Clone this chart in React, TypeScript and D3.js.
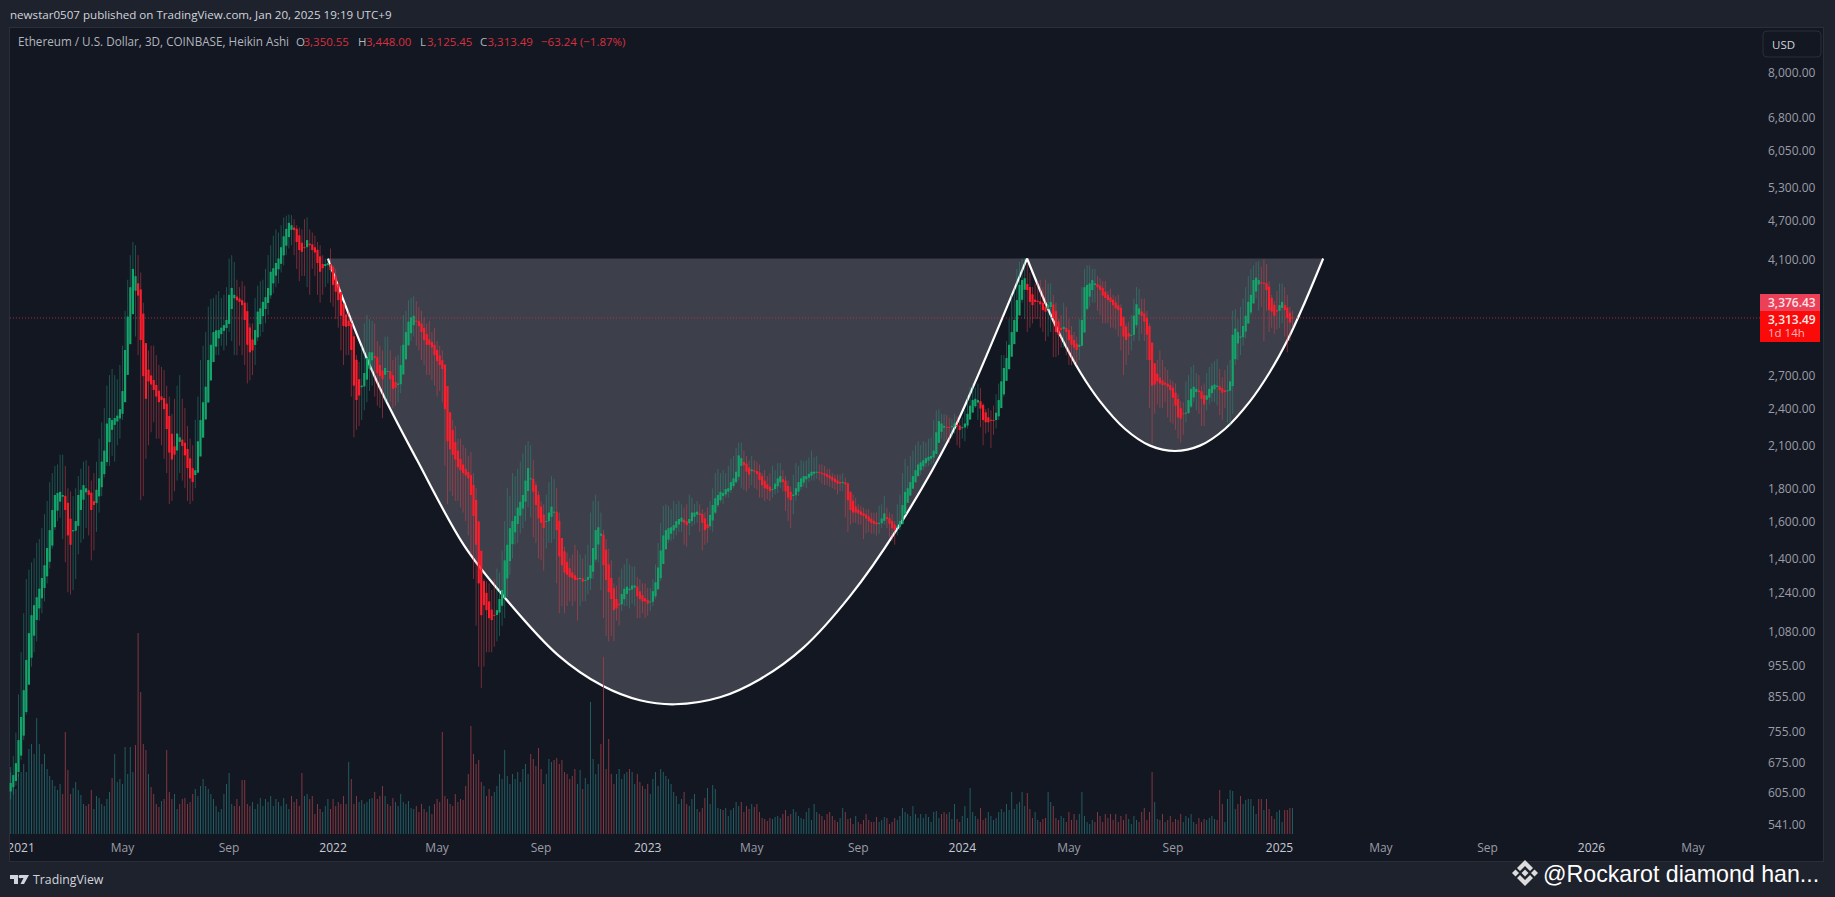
import React from "react";
import * as d3 from "d3";

const closes = [
626,644,672,730,793,873,973,1071,1142,1184,
1218,1256,1305,1366,1453,1549,1665,1757,1770,1777,
1757,1665,1520,1470,1549,1600,1757,1790,1820,1800,
1757,1665,1695,1790,1865,1980,2060,2270,2315,2298,
2315,2335,2390,2550,2954,3330,3700,3950,3850,3590,
3061,2690,2480,2640,2610,2560,2500,2450,2470,2390,
2225,2045,1995,2030,2190,2160,2095,2025,1935,1865,
1840,1920,2130,2298,2450,2590,2850,3010,3150,3170,
3173,3200,3230,3290,3600,3690,3600,3530,3510,3470,
3290,3010,2930,2950,3173,3390,3430,3510,3570,3690,
3910,3960,4035,4100,4270,4440,4560,4660,4620,4540,
4350,4226,4200,4270,4380,4300,4226,4190,4035,3910,
3960,4020,4035,3934,3730,3640,3533,3340,3220,3210,
3220,2954,2600,2469,2510,2600,2720,2870,2930,2930,
2870,2720,2690,2660,2770,2740,2660,2570,2580,2620,
2800,3010,3150,3270,3320,3340,3270,3220,3150,3060,
3010,3010,2980,2900,2840,2800,2760,2390,2130,2070,
2030,1995,1940,1920,1900,1885,1865,1757,1630,1470,
1280,1142,1184,1163,1130,1122,1142,1163,1210,1250,
1390,1470,1560,1600,1630,1680,1715,1757,1850,1935,
1865,1777,1695,1615,1590,1560,1600,1650,1685,1655,
1549,1410,1366,1330,1320,1310,1305,1296,1296,1305,
1288,1296,1310,1366,1453,1549,1565,1530,1366,1296,
1240,1210,1163,1170,1184,1232,1256,1265,1256,1270,
1270,1222,1210,1200,1200,1190,1200,1245,1285,1355,
1440,1520,1549,1560,1565,1577,1600,1612,1620,1590,
1577,1612,1650,1650,1655,1636,1590,1549,1560,1636,
1695,1737,1757,1777,1770,1795,1800,1840,1865,1910,
2025,2005,1955,1910,1890,1925,1910,1895,1855,1820,
1800,1795,1780,1795,1830,1865,1880,1840,1780,1740,
1725,1760,1800,1840,1865,1880,1880,1895,1910,1910,
1910,1900,1895,1885,1875,1865,1850,1840,1830,1830,
1840,1825,1725,1665,1650,1650,1645,1636,1630,1615,
1600,1590,1585,1580,1590,1615,1645,1612,1585,1560,
1549,1570,1600,1695,1777,1800,1840,1880,1920,1960,
1975,1990,2005,2015,2020,2060,2200,2290,2270,2250,
2240,2240,2250,2270,2250,2217,2240,2270,2350,2420,
2469,2480,2469,2395,2298,2280,2280,2298,2298,2360,
2469,2640,2770,2870,3010,3150,3290,3533,3730,3796,
3820,3662,3510,3470,3510,3510,3480,3408,3390,3470,
3510,3313,3150,3120,3173,3210,3150,3060,3010,2980,
2954,3010,3290,3700,3730,3750,3796,3750,3700,3662,
3590,3560,3533,3510,3470,3430,3408,3220,3100,3061,
3100,3120,3340,3480,3430,3340,3270,3120,2850,2600,
2610,2640,2620,2605,2610,2590,2558,2490,2420,2320,
2310,2350,2360,2469,2570,2590,2570,2540,2480,2430,
2510,2570,2600,2610,2600,2558,2535,2540,2558,2640,
3120,3190,3150,3100,3220,3340,3510,3600,3796,3830,
3796,3750,3750,3662,3408,3390,3340,3390,3470,3510,
3408,3313,3260,3313,
];

const highs = [
650,690,750,860,1000,1150,1300,1345,1380,1400,
1480,1500,1560,1640,1720,1840,1900,1950,1960,2030,
2030,1950,1800,1780,1750,1800,1880,1930,1980,1990,
1950,1850,1900,1980,2150,2280,2400,2600,2700,2760,
2700,2660,2800,3000,3400,3800,4150,4350,4300,4150,
3900,3500,3000,2950,3000,3000,2900,2800,2780,2750,
2600,2500,2350,2480,2600,2700,2480,2400,2250,2150,
2100,2300,2500,2850,3000,3150,3450,3550,3560,3600,
3650,3560,3600,3700,4100,4150,4050,3800,3700,3780,
3720,3500,3250,3250,3560,3720,3780,3800,3950,4150,
4300,4450,4550,4500,4620,4750,4780,4800,4790,4720,
4620,4580,4550,4720,4750,4550,4500,4450,4350,4300,
4150,4100,4100,4250,4000,3950,3700,3600,3500,3400,
3400,3300,3150,2900,2830,3000,3250,3350,3300,3280,
3250,3050,3000,2950,3100,3100,2950,2850,2880,2900,
3000,3350,3400,3530,3560,3580,3520,3450,3400,3320,
3250,3280,3150,3200,3050,3000,2950,2800,2500,2350,
2300,2250,2150,2150,2100,2080,2020,2050,1900,1800,
1600,1380,1300,1290,1280,1250,1300,1350,1330,1440,
1600,1800,1750,1900,1880,1930,1980,2040,2100,2130,
2100,1990,1840,1780,1720,1700,1760,1840,1880,1860,
1800,1650,1500,1460,1430,1400,1420,1470,1440,1420,
1400,1420,1470,1650,1720,1760,1720,1650,1550,1500,
1450,1390,1280,1270,1310,1350,1370,1400,1370,1360,
1360,1310,1300,1280,1280,1260,1260,1300,1370,1480,
1590,1690,1700,1690,1670,1720,1700,1720,1700,1680,
1700,1760,1740,1700,1720,1700,1670,1650,1680,1720,
1800,1900,1930,1900,1920,1900,1950,2000,2020,2080,
2120,2120,2060,2020,1990,2020,1990,1980,1960,1900,
1920,1880,1900,1950,1920,1970,1970,1920,1880,1850,
1810,1890,1970,1950,1990,1980,1990,2010,2060,2010,
2020,1960,1960,1950,1930,1930,1900,1890,1890,1890,
1900,1870,1840,1750,1760,1740,1700,1690,1680,1670,
1670,1650,1650,1650,1690,1700,1750,1680,1650,1640,
1600,1700,1760,1900,2000,1950,2020,2060,2100,2130,
2100,2130,2120,2150,2160,2300,2380,2390,2350,2350,
2340,2320,2310,2350,2330,2300,2320,2380,2500,2590,
2620,2580,2620,2580,2440,2390,2400,2380,2420,2520,
2620,2900,2900,3050,3300,3600,3700,3950,4050,4100,
4100,4020,3900,3700,3750,3780,3800,3700,3800,3750,
3750,3600,3500,3300,3350,3500,3450,3300,3220,3150,
3100,3300,3700,3950,4000,4000,3950,3950,3850,3820,
3780,3780,3650,3680,3600,3580,3600,3480,3320,3250,
3270,3350,3550,3700,3680,3550,3550,3400,3250,3000,
2800,2850,2950,2850,2780,2750,2660,2640,2620,2520,
2460,2450,2640,2700,2780,2800,2720,2700,2600,2620,
2720,2780,2820,2840,2860,2760,2680,2750,2800,2850,
3400,3420,3300,3450,3550,3700,3850,3950,4000,4050,
4060,3980,4090,4020,3780,3600,3520,3650,3750,3750,
3700,3600,3450,3400,
];

const lows = [
590,600,620,640,680,730,800,900,950,1000,
1040,1120,1150,1200,1280,1350,1450,1550,1600,1620,
1500,1380,1240,1230,1250,1300,1420,1480,1500,1560,
1520,1390,1440,1540,1650,1750,1870,1950,1950,2020,
1980,2100,2150,2300,2500,2800,3200,3400,3100,2900,
1725,1750,2000,2100,2200,2280,2150,2150,2100,2000,
1900,1700,1720,1780,1850,1900,1850,1800,1720,1700,
1720,1800,1900,2050,2200,2300,2500,2700,2850,2900,
2900,3000,2950,3000,3150,3050,2900,2900,3000,2900,
2800,2620,2650,2700,2800,3050,3100,3150,3250,3350,
3550,3620,3700,3750,3900,4000,4150,4250,4300,4150,
3950,3780,3850,3850,3700,3600,3950,3850,3600,3500,
3600,3700,3750,3500,3450,3300,3200,2950,2800,2900,
2900,2500,2160,2220,2250,2300,2380,2450,2550,2600,
2500,2420,2400,2315,2450,2450,2450,2400,2420,2450,
2530,2700,2850,3000,3050,3100,3000,2950,2850,2800,
2700,2700,2650,2600,2500,2550,2450,1950,1700,1780,
1750,1720,1720,1680,1650,1600,1520,1420,1300,1100,
950,880,950,1000,1000,1000,1020,1040,1060,1100,
1130,1220,1320,1400,1470,1480,1530,1560,1600,1680,
1620,1510,1480,1400,1390,1340,1450,1480,1480,1500,
1280,1150,1180,1150,1180,1200,1180,1200,1120,1180,
1200,1200,1230,1250,1300,1380,1380,1250,1130,1060,
1040,1060,1040,1120,1100,1160,1180,1180,1170,1190,
1180,1130,1130,1150,1130,1140,1160,1180,1210,1250,
1290,1370,1450,1480,1490,1500,1520,1540,1540,1470,
1460,1520,1570,1580,1590,1540,1440,1470,1480,1550,
1540,1640,1680,1710,1700,1740,1740,1770,1800,1830,
1850,1800,1790,1780,1800,1820,1800,1790,1740,1740,
1720,1730,1720,1740,1760,1770,1800,1780,1660,1600,
1560,1640,1720,1750,1790,1810,1800,1840,1850,1850,
1860,1850,1830,1820,1820,1810,1800,1790,1760,1780,
1780,1620,1540,1580,1590,1590,1580,1580,1500,1530,
1540,1530,1530,1520,1530,1560,1580,1560,1510,1490,
1470,1520,1550,1580,1650,1730,1750,1800,1850,1880,
1890,1920,1940,1950,1960,1970,2050,2150,2150,2130,
2140,2120,2160,2190,2100,2080,2150,2130,2230,2320,
2360,2400,2300,2240,2100,2190,2200,2080,2180,2230,
2300,2400,2500,2700,2800,2950,3100,3250,3400,3500,
3300,3150,3200,3250,3300,3300,3200,3150,3050,3100,
3150,2880,2880,2900,2980,2980,2900,2800,2800,2820,
2800,2850,3000,3200,3400,3450,3500,3500,3400,3350,
3250,3250,3250,3200,3200,3180,3100,2950,2700,2800,
2900,2950,3050,3200,3050,3130,3050,2850,2400,2110,
2350,2430,2400,2400,2450,2320,2280,2270,2220,2150,
2120,2180,2280,2350,2400,2450,2380,2350,2250,2250,
2380,2430,2450,2450,2420,2340,2300,2400,2280,2250,
2350,2800,2850,2900,3000,3080,3250,3350,3500,3550,
3400,3450,3050,3400,3150,3200,3130,3180,3200,3250,
3100,2930,3050,3200,
];

const volumes = [
67,48,45,60,62,70,62,85,90,80,
116,90,70,80,65,58,54,48,44,50,
40,102,64,40,46,52,44,39,30,28,
30,44,25,38,36,30,28,35,42,56,
80,52,55,50,87,60,87,62,89,201,
142,90,84,60,47,40,30,27,33,35,
84,42,35,40,25,30,35,36,30,32,
40,45,38,48,55,48,45,40,35,28,
22,25,40,50,61,30,28,35,28,54,
54,30,28,32,25,30,36,28,35,32,
38,28,35,32,28,36,30,25,38,32,
35,28,61,38,40,35,38,20,30,25,
22,28,35,25,35,28,32,30,38,30,
72,55,30,38,32,34,30,32,35,36,
42,35,38,48,38,30,28,36,32,28,
40,32,30,33,26,25,28,22,30,25,
22,28,20,30,35,32,102,38,35,30,
28,40,32,35,34,48,60,108,80,70,
74,52,48,38,45,38,42,48,60,55,
84,58,50,60,55,62,52,65,70,60,
80,75,68,86,65,50,60,75,72,74,
76,70,74,62,60,55,58,65,50,64,
45,56,50,132,75,60,70,90,177,65,
95,60,50,60,65,55,60,62,65,62,
50,60,52,48,45,50,40,55,62,48,
65,62,58,55,50,42,38,30,35,42,
30,28,35,40,25,22,26,36,46,30,
49,45,26,25,24,26,18,24,26,32,
28,32,22,28,25,30,27,30,22,16,
15,13,16,15,17,18,16,20,24,18,
20,25,22,18,16,15,22,26,14,30,
22,20,18,14,20,22,18,14,12,16,
26,22,15,16,10,18,12,10,14,20,
14,12,12,17,12,14,17,16,10,12,
16,14,18,26,22,20,18,28,20,16,
20,16,20,17,12,22,23,16,20,22,
20,22,15,30,15,12,18,28,16,46,
22,18,15,26,14,16,22,18,14,16,
22,25,22,30,24,42,25,30,32,42,
28,41,25,16,22,14,12,15,16,42,
32,28,16,14,18,16,12,22,14,20,
14,20,42,18,12,10,14,12,22,18,
12,20,16,20,14,20,12,18,14,20,
15,10,18,14,12,22,26,14,22,62,
32,15,14,20,12,14,18,12,15,14,
20,12,18,16,20,12,10,16,12,15,
14,16,18,15,14,44,30,12,35,44,
43,25,30,38,30,34,35,35,28,20,
35,35,24,35,25,18,15,22,24,12,
24,24,26,26,
];

const priceTicks = [8000, 6800, 6050, 5300, 4700, 4100, 2700, 2400, 2100, 1800, 1600, 1400, 1240, 1080, 955, 855, 755, 675, 605, 541];
const timeLabels = ["2021", "May", "Sep", "2022", "May", "Sep", "2023", "May", "Sep", "2024", "May", "Sep", "2025", "May", "Sep", "2026", "May"];
const timeBars = [4, 43, 84, 124, 164, 204, 245, 285, 326, 366, 407, 447, 488, 527, 568, 608, 647];

const cupBars = [122, 131.7, 142, 156.3, 174.3, 188.2, 210.5, 227.8, 242, 255.5, 272.8, 288.2, 304.7, 322.8, 340.9, 361.3, 371.6, 387, 390.9];
const cupPrices = [4100, 3230, 2578, 1991, 1468, 1241, 990, 886, 842, 830, 851, 908, 1015, 1223, 1555, 2162, 2671, 3755, 4100];
const handleBars = [390.9, 397.8, 403.6, 411.3, 418.9, 428.6, 438.2, 447.8, 457.4, 467, 476.7, 484.3, 491.3, 497.8, 504.8];
const handlePrices = [4100, 3509, 3117, 2730, 2460, 2226, 2097, 2057, 2097, 2226, 2460, 2730, 3072, 3509, 4100];

const legendName = "Ethereum / U.S. Dollar, 3D, COINBASE, Heikin Ashi";
const ohlc = [
  { key: "O", value: "3,350.55", kx: 296, vx: 303.5 },
  { key: "H", value: "3,448.00", kx: 358, vx: 366 },
  { key: "L", value: "3,125.45", kx: 420, vx: 427 },
  { key: "C", value: "3,313.49", kx: 480, vx: 487.5 },
];

const BG = "#131722";
const FRAME = "#1e222d";
const LINE = "#2a2e39";
const FONT = "'Open Sans', 'Liberation Sans', sans-serif";

const x = d3.scaleLinear().domain([0, 493]).range([10.7, 1292.5]);
const y = d3.scaleLog().domain([8000, 541]).range([72, 823.7]);
const v = d3.scaleLinear().domain([0, 201]).range([834, 633]);

let prevO = closes[0] * 0.97;
let prevC = closes[0];
const opens = closes.map((c, i) => {
  if (i === 0) return prevO;
  const o = (prevO + prevC) / 2;
  prevO = o;
  prevC = c;
  return o;
});

function cupPath(bars: number[], prices: number[]) {
  const pts = bars.map((b, i) => [x(b), y(prices[i])] as [number, number]);
  return d3.line().curve(d3.curveCatmullRom.alpha(0.5))(pts) as string;
}

const logoPolys = [
  "0,-13 8,-5 5,-2 0,-7 -5,-2 -8,-5",
  "0,13 8,5 5,2 0,7 -5,2 -8,5",
  "-13,0 -9.5,-3.5 -6,0 -9.5,3.5",
  "13,0 9.5,-3.5 6,0 9.5,3.5",
  "0,-3.5 3.5,0 0,3.5 -3.5,0",
];

export default function App() {
  const cup = cupPath(cupBars, cupPrices);
  const handle = cupPath(handleBars, handlePrices);
  const priceFmt = d3.format(",.2f");
  return (
    <svg
      width={1835}
      height={897}
      viewBox="0 0 1835 897"
      style={{ position: "fixed", left: 0, top: 0, display: "block" }}
      fontFamily={FONT}
    >
      <defs>
        <clipPath id="pane">
          <rect x={10} y={27} width={1814} height={834} />
        </clipPath>
      </defs>
      <rect width={1835} height={897} fill={FRAME} />
      <rect x={9.5} y={27.5} width={1814} height={834} fill={BG} stroke={LINE} />

      <text x={10} y={19} fontSize={11.6} fill="#d1d4dc">
        newstar0507 published on TradingView.com, Jan 20, 2025 19:19 UTC+9
      </text>

      <path d={`${cup}Z`} fill="#3d3f4a" />
      <path d={`${handle}Z`} fill="#3d3f4a" />
      <path d={cup} fill="none" stroke="#ffffff" strokeWidth={2.2} />
      <path d={handle} fill="none" stroke="#ffffff" strokeWidth={2.2} />

      <line x1={10} x2={1760} y1={y(3313.49)} y2={y(3313.49)} stroke="#d8303d" strokeOpacity={0.75} strokeWidth={1} strokeDasharray="1 2" />

      <g>
        {volumes.map((d, i) => (
          <line
            key={i}
            x1={x(i)}
            x2={x(i)}
            y1={v(0)}
            y2={v(d)}
            stroke={i === 0 || closes[i] >= closes[i - 1] ? "#246e72" : "#a03f49"}
            strokeWidth={0.8}
          />
        ))}
      </g>
      <g>
        {closes.map((c, i) => {
          const up = c >= opens[i];
          return (
            <g key={i}>
              <line
                x1={x(i)}
                x2={x(i)}
                y1={y(highs[i])}
                y2={y(lows[i])}
                stroke={up ? "#2a9a83" : "#ea4651"}
                strokeOpacity={0.6}
                strokeWidth={0.75}
              />
              <rect
                x={x(i) - 1.1}
                width={2.2}
                y={y(Math.max(c, opens[i]))}
                height={Math.max(1, Math.abs(y(c) - y(opens[i])))}
                fill={up ? "#13a56a" : "#fb1f2d"}
              />
            </g>
          );
        })}
      </g>

      <text x={18} y={46} fontSize={11.7} fill="#b2b5be">{legendName}</text>
      {ohlc.map((d) => (
        <g key={d.key} fontSize={11.5}>
          <text x={d.kx} y={46} fill="#b2b5be">{d.key}</text>
          <text x={d.vx} y={46} fill="#d7303f">{d.value}</text>
        </g>
      ))}
      <text x={541} y={46} fontSize={11.5} fill="#d7303f">−63.24 (−1.87%)</text>

      <rect x={1763} y={31} width={58} height={26} rx={4} fill={BG} stroke={LINE} />
      <text x={1772} y={49} fontSize={11.5} fill="#d1d4dc">USD</text>

      {priceTicks.map((p) => (
        <text key={p} x={1768} y={y(p) + 5} fontSize={12} fill="#9a9da6">{priceFmt(p)}</text>
      ))}

      <rect x={1760} y={294} width={60} height={17} fill="#ec4058" />
      <rect x={1760} y={311} width={60} height={31} fill="#fb0a0a" />
      <text x={1768} y={306.5} fontSize={12} fontWeight={600} fill="#fbe3e6">3,376.43</text>
      <text x={1768} y={323.5} fontSize={12} fontWeight={600} fill="#fde8e8">3,313.49</text>
      <text x={1768} y={337} fontSize={11.5} fill="#f9b5b5">1d 14h</text>

      <g clipPath="url(#pane)">
        {timeBars.map((b, i) => (
          <text
            key={i}
            x={x(b)}
            y={852}
            textAnchor="middle"
            fontSize={12}
            fill={/^\d/.test(timeLabels[i]) ? "#c7cad2" : "#9a9da6"}
          >
            {timeLabels[i]}
          </text>
        ))}
      </g>

      <g fill="#d1d4dc">
        <path d="M10 875h8v9h-4v-5h-4zM19.5 875h9.5l-5 9h-3.5l3-6h-2.5a1.6 1.6 0 1 1-1.5-3z" />
        <text x={33} y={884} fontSize={12.3}>TradingView</text>
      </g>

      <g fill="#dcdcdc" transform="translate(1525 873)">
        {logoPolys.map((p) => (
          <polygon key={p} points={p} />
        ))}
      </g>
      <text x={1543} y={882} fontSize={23.2} fill="#ffffff" fontFamily="'Liberation Sans', Arial, sans-serif">@Rockarot diamond han...</text>
    </svg>
  );
}
